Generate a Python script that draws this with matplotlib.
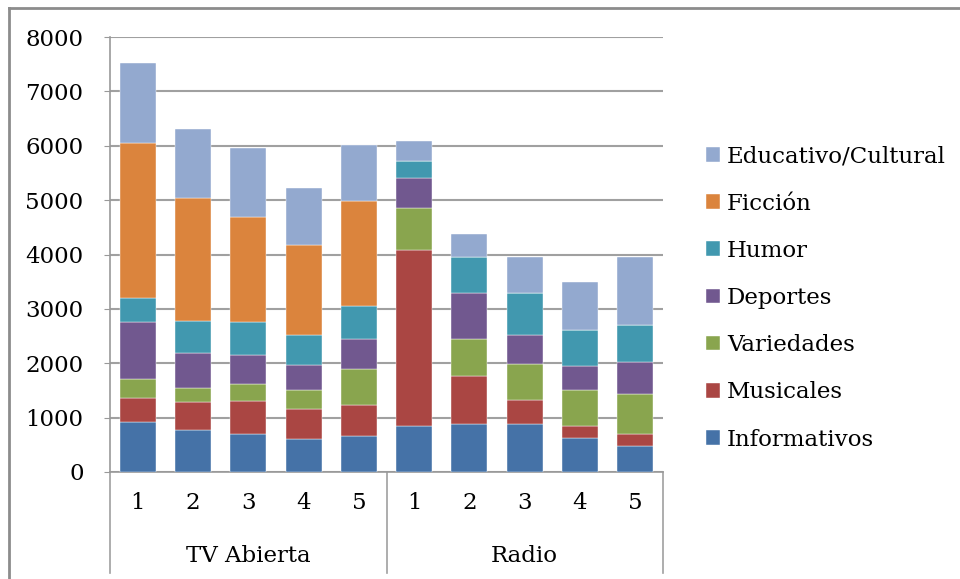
import numpy as np
import matplotlib
matplotlib.use('Agg')
import matplotlib.pyplot as plt
from matplotlib.lines import Line2D

plt.rcParams['font.family'] = 'DejaVu Serif'

# data (stacked from bottom to top)
groups = ['TV Abierta', 'Radio']
tick_labels = ['1', '2', '3', '4', '5', '1', '2', '3', '4', '5']
series = ['Informativos', 'Musicales', 'Variedades', 'Deportes', 'Humor', 'Ficción', 'Educativo/Cultural']
informativos = [920, 780, 690, 600, 665, 840, 885, 885, 627, 480]
musicales = [450, 500, 615, 560, 565, 3245, 880, 430, 215, 220]
variedades = [340, 260, 305, 355, 665, 775, 680, 665, 665, 730]
deportes = [1040, 650, 540, 455, 550, 545, 855, 545, 440, 595]
humor = [450, 590, 600, 550, 615, 310, 645, 775, 665, 685]
ficcion = [2850, 2250, 1945, 1655, 1920, 0, 0, 0, 0, 0]
educativo = [1470, 1280, 1255, 1040, 1035, 375, 440, 645, 880, 1235]
colors = ['#4572A7', '#AA4643', '#89A54E', '#71588F', '#4198AF', '#DB843D', '#93A9CF']

values = [informativos, musicales, variedades, deportes, humor, ficcion, educativo]
fs = 16.5

fig = plt.figure(figsize=(9.6, 5.79), dpi=100)
ax = fig.add_axes([110 / 960, 1 - 472 / 579, (663 - 110) / 960, (472 - 37) / 579])

x = np.arange(len(tick_labels))
bottom = np.zeros(len(x))
for name, vals, c in zip(series, values, colors):
    ax.bar(x, vals, width=0.65, bottom=bottom, color=c, label=name,
           edgecolor='#ffffff', linewidth=0.3, zorder=3)
    bottom += np.array(vals)

ax.set_xlim(-0.5, len(x) - 0.5)
ax.set_ylim(0, 8000)
ax.set_yticks(range(0, 8001, 1000))
ax.tick_params(axis='y', labelsize=fs, length=4, color='#999999', pad=15)
ax.set_xticks([])
ax.yaxis.grid(True, color='#a0a0a0', linewidth=1.5, zorder=0)
for s in ['top', 'right']:
    ax.spines[s].set_visible(False)
ax.spines['left'].set_color('#999999')
ax.spines['bottom'].set_color('#999999')
ax.spines['left'].set_linewidth(1.2)
ax.spines['bottom'].set_linewidth(1.2)

# category labels below axis
trans = ax.get_xaxis_transform()
for xi, lab in zip(x, tick_labels):
    ax.text(xi, -0.072, lab, transform=trans, ha='center', va='center', fontsize=fs)
for gi, g in enumerate(groups):
    ax.text(gi * 5 + 2, -0.193, g, transform=trans, ha='center', va='center', fontsize=fs)
for xs in [-0.5, 4.5, 9.5]:
    ax.add_line(Line2D([xs, xs], [0, -0.233], transform=trans, color='#a0a0a0',
                       linewidth=1.2, clip_on=False))

# legend
handles, labels = ax.get_legend_handles_labels()
leg = fig.legend(handles[::-1], labels[::-1], loc='center left',
                 bbox_to_anchor=(697 / 960, 1 - 298 / 579), frameon=False,
                 fontsize=fs, labelspacing=1.1, handlelength=0.6, handleheight=0.6,
                 handletextpad=0.3, borderaxespad=0)

# outer border of the chart area
fig.add_artist(Line2D([9 / 960, 9 / 960], [0, 1 - 8 / 579], transform=fig.transFigure,
                      color='#8c8c8c', linewidth=2))
fig.add_artist(Line2D([9 / 960, 1], [1 - 8 / 579, 1 - 8 / 579], transform=fig.transFigure,
                      color='#8c8c8c', linewidth=2))

fig.savefig('out.png', dpi=100)
